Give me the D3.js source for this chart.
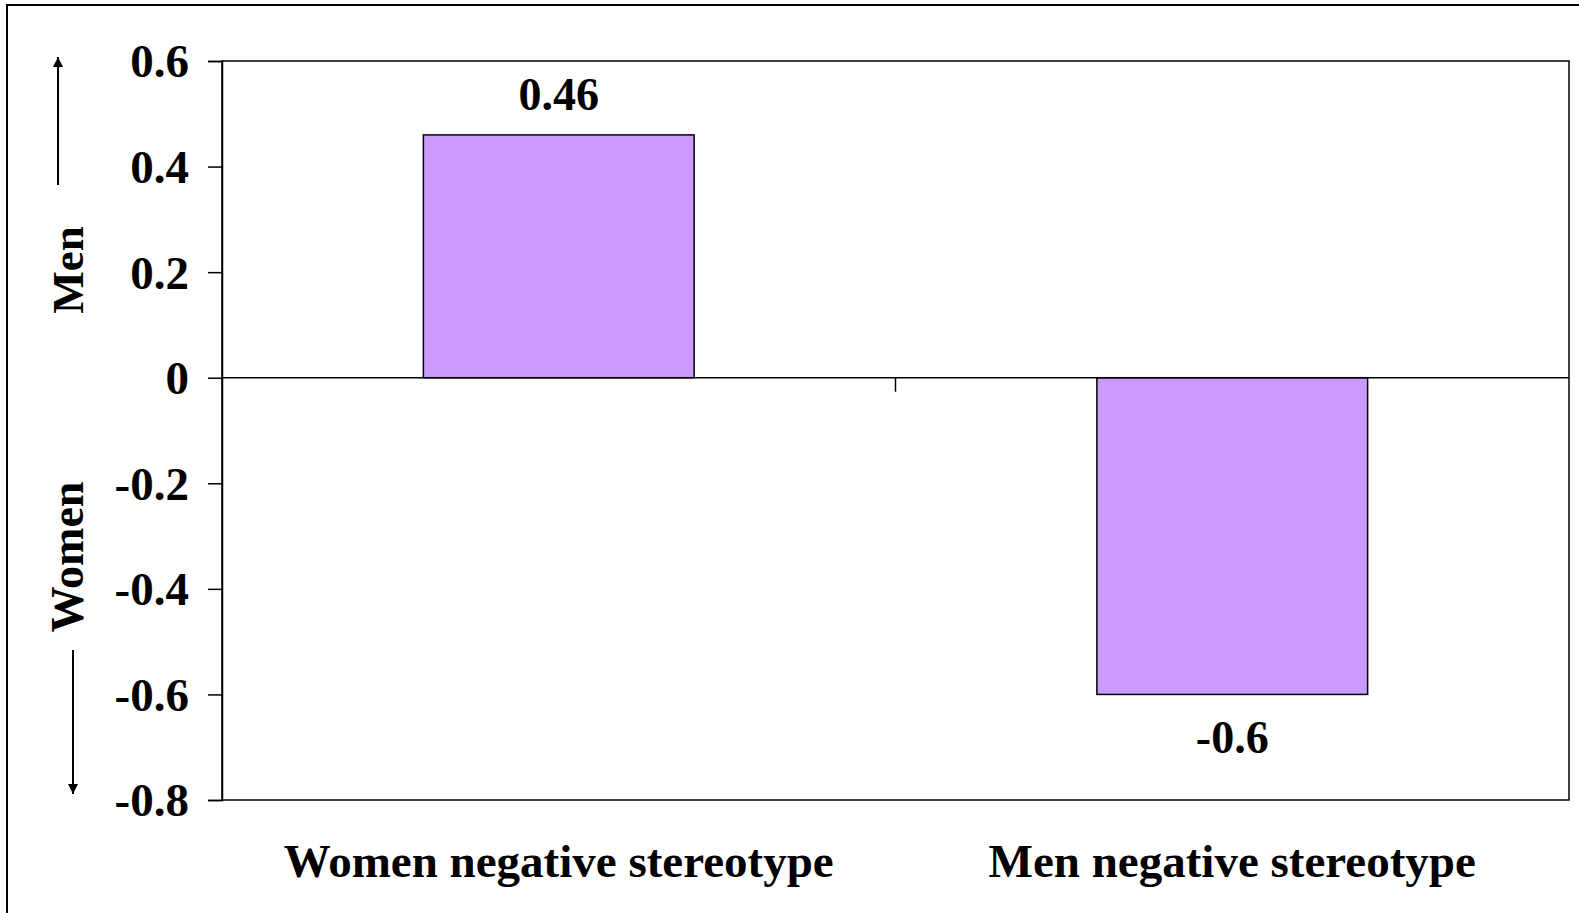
<!DOCTYPE html>
<html>
<head>
<meta charset="utf-8">
<script src="https://cdn.jsdelivr.net/npm/d3@7/dist/d3.min.js"></script>
<style>
  html, body { margin: 0; padding: 0; background: #fff; }
  svg { display: block; }
  text { font-family: "Liberation Serif", "Times New Roman", serif; font-weight: bold; fill: #000; }
</style>
</head>
<body>
<svg id="chart" width="1579" height="913"></svg>
<script>
// Data
const categories = ["Women negative stereotype", "Men negative stereotype"];
const values = [0.46, -0.6];
const valueLabels = ["0.46", "-0.6"];
const tickValues = [0.6, 0.4, 0.2, 0, -0.2, -0.4, -0.6, -0.8];
const tickLabels = ["0.6", "0.4", "0.2", "0", "-0.2", "-0.4", "-0.6", "-0.8"];
const sideLabels = ["Men", "Women"];

const svg = d3.select("#chart");
const W = 1579, H = 913;
const plot = { left: 222, top: 61, right: 1569, bottom: 800 };

// Outer frame (runs past the right and bottom edges)
svg.append("rect")
  .attr("x", 7).attr("y", 5)
  .attr("width", W + 50).attr("height", H + 50)
  .attr("fill", "#fff").attr("stroke", "#000").attr("stroke-width", 2);

const y = d3.scaleLinear().domain([-0.8, 0.6]).range([plot.bottom, plot.top]);
const x = d3.scaleBand().domain(categories).range([plot.left, plot.right]).padding(0);
const barW = x.bandwidth() * 0.402;

// Plot area frame
svg.append("rect")
  .attr("x", plot.left).attr("y", plot.top)
  .attr("width", plot.right - plot.left).attr("height", plot.bottom - plot.top)
  .attr("fill", "none").attr("stroke", "#000").attr("stroke-width", 1.5);

// Bars
svg.append("g").selectAll("rect")
  .data(values)
  .join("rect")
  .attr("x", (d, i) => x(categories[i]) + (x.bandwidth() - barW) / 2)
  .attr("y", d => y(Math.max(0, d)))
  .attr("width", barW)
  .attr("height", d => Math.abs(y(d) - y(0)))
  .attr("fill", "#CC99FF")
  .attr("stroke", "#000")
  .attr("stroke-width", 1.5);

// Zero baseline across the plot
svg.append("line")
  .attr("x1", plot.left).attr("x2", plot.right)
  .attr("y1", y(0)).attr("y2", y(0))
  .attr("stroke", "#000").attr("stroke-width", 1.5);

// Category separator tick on the zero line
svg.append("g").selectAll("line")
  .data(categories.slice(1))
  .join("line")
  .attr("x1", d => x(d)).attr("x2", d => x(d))
  .attr("y1", y(0)).attr("y2", y(0) + 14)
  .attr("stroke", "#000").attr("stroke-width", 1.5);

// Y axis
const yAxis = d3.axisLeft(y)
  .tickValues(tickValues)
  .tickSize(14)
  .tickPadding(19)
  .tickFormat((d, i) => tickLabels[i]);
const gy = svg.append("g")
  .attr("transform", `translate(${plot.left},0)`)
  .call(yAxis);
gy.select(".domain").attr("stroke", "#000").attr("stroke-width", 1.5);
gy.selectAll(".tick line").attr("stroke", "#000").attr("stroke-width", 1.5);
gy.selectAll(".tick text")
  .attr("font-family", "Liberation Serif, Times New Roman, serif")
  .attr("font-weight", "bold")
  .attr("font-size", 47)
  .attr("fill", "#000")
  .attr("dy", "0.34em");

// Category labels
svg.append("g").selectAll("text")
  .data(categories)
  .join("text")
  .attr("x", d => x(d) + x.bandwidth() / 2)
  .attr("y", 877)
  .attr("text-anchor", "middle")
  .attr("font-size", 47)
  .text(d => d);

// Value labels
svg.append("g").selectAll("text")
  .data(values)
  .join("text")
  .attr("x", (d, i) => x(categories[i]) + x.bandwidth() / 2)
  .attr("y", d => d >= 0 ? y(d) - 25 : y(d) + 59)
  .attr("text-anchor", "middle")
  .attr("font-size", 46)
  .text((d, i) => valueLabels[i]);

// Side labels with direction arrows
const defs = svg.append("defs");
defs.append("marker")
  .attr("id", "arrowhead")
  .attr("viewBox", "0 0 10 10")
  .attr("refX", 10).attr("refY", 5)
  .attr("markerWidth", 10).attr("markerHeight", 10)
  .attr("markerUnits", "userSpaceOnUse")
  .attr("orient", "auto")
  .append("path")
  .attr("d", "M0,0 L10,5 L0,10 Z")
  .attr("fill", "#000");

svg.append("text")
  .attr("transform", "translate(83,270) rotate(-90)")
  .attr("text-anchor", "middle")
  .attr("font-size", 45)
  .text(sideLabels[0]);
svg.append("text")
  .attr("transform", "translate(83,557) rotate(-90)")
  .attr("text-anchor", "middle")
  .attr("font-size", 46)
  .text(sideLabels[1]);

svg.append("line")
  .attr("x1", 58).attr("x2", 58)
  .attr("y1", 185).attr("y2", 57)
  .attr("stroke", "#000").attr("stroke-width", 2)
  .attr("marker-end", "url(#arrowhead)");
svg.append("line")
  .attr("x1", 73).attr("x2", 73)
  .attr("y1", 650).attr("y2", 794)
  .attr("stroke", "#000").attr("stroke-width", 2)
  .attr("marker-end", "url(#arrowhead)");
</script>
</body>
</html>
